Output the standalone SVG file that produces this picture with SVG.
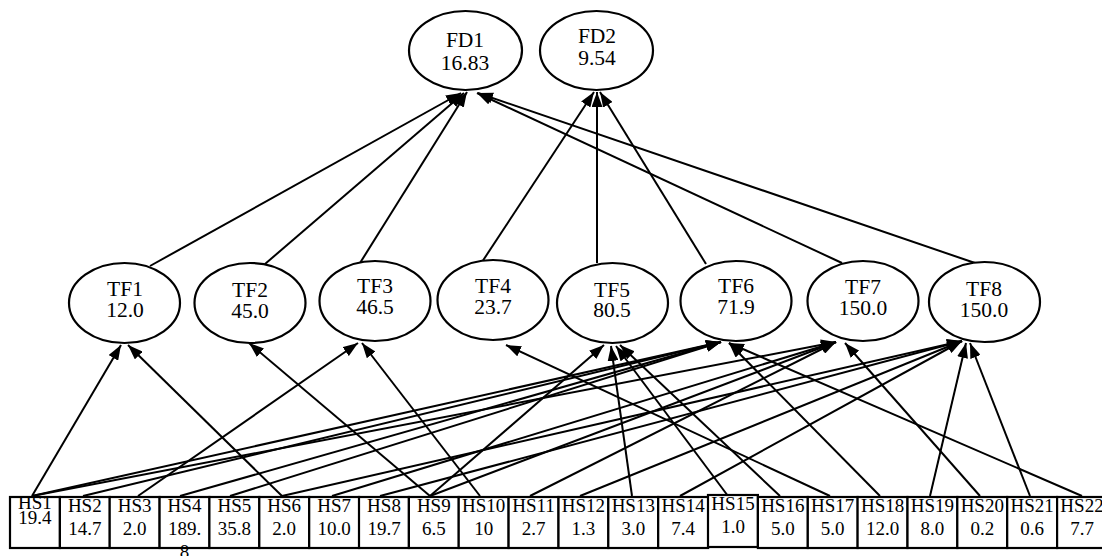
<svg xmlns="http://www.w3.org/2000/svg" width="1102" height="556" viewBox="0 0 1102 556">
<style>
.n{fill:#fff;stroke:#000;stroke-width:2.2}
.t{font-family:"Liberation Serif","Times New Roman",serif;font-size:21.5px;text-anchor:middle;fill:#000}
.s{font-family:"Liberation Serif","Times New Roman",serif;font-size:19px;text-anchor:middle;fill:#000}
.e{stroke:#000;stroke-width:2;fill:none;marker-end:url(#ah)}
</style>
<defs>
<marker id="ah" viewBox="0 0 15 11" refX="15" refY="5.5" markerWidth="15" markerHeight="11" markerUnits="userSpaceOnUse" orient="auto"><path d="M0,0 L15,5.5 L0,11 z" fill="#000"/></marker>
</defs>
<rect width="1102" height="556" fill="#fff"/>
<g id="connectors">
<line class="e" x1="150" y1="266" x2="461" y2="93"/>
<line class="e" x1="265" y1="264" x2="464" y2="93"/>
<line class="e" x1="360" y1="263" x2="467" y2="92"/>
<line class="e" x1="842" y1="263" x2="477" y2="93"/>
<line class="e" x1="975" y1="263" x2="478" y2="93"/>
<line class="e" x1="482" y1="262" x2="594" y2="92"/>
<line class="e" x1="597" y1="263" x2="597" y2="92"/>
<line class="e" x1="706" y1="264" x2="600" y2="92"/>
<line class="e" x1="32" y1="496" x2="121" y2="345"/>
<line class="e" x1="282" y1="496" x2="128" y2="345"/>
<line class="e" x1="430" y1="496" x2="249" y2="343"/>
<line class="e" x1="138" y1="496" x2="358" y2="343"/>
<line class="e" x1="480" y1="496" x2="362" y2="343"/>
<line class="e" x1="830" y1="496" x2="506" y2="345"/>
<line class="e" x1="430" y1="496" x2="604" y2="345"/>
<line class="e" x1="632" y1="496" x2="611" y2="346"/>
<line class="e" x1="728" y1="496" x2="616" y2="346"/>
<line class="e" x1="780" y1="496" x2="620" y2="345"/>
<line class="e" x1="32" y1="496" x2="721" y2="342"/>
<line class="e" x1="83" y1="496" x2="721" y2="342"/>
<line class="e" x1="180" y1="496" x2="721" y2="342"/>
<line class="e" x1="230" y1="496" x2="721" y2="342"/>
<line class="e" x1="880" y1="496" x2="729" y2="343"/>
<line class="e" x1="1082" y1="496" x2="729" y2="343"/>
<line class="e" x1="32" y1="496" x2="836" y2="342"/>
<line class="e" x1="332" y1="496" x2="836" y2="342"/>
<line class="e" x1="430" y1="496" x2="836" y2="342"/>
<line class="e" x1="530" y1="496" x2="836" y2="342"/>
<line class="e" x1="980" y1="496" x2="845" y2="343"/>
<line class="e" x1="282" y1="496" x2="962" y2="341"/>
<line class="e" x1="380" y1="496" x2="962" y2="341"/>
<line class="e" x1="580" y1="496" x2="962" y2="341"/>
<line class="e" x1="680" y1="496" x2="962" y2="341"/>
<line class="e" x1="930" y1="496" x2="966" y2="343"/>
<line class="e" x1="1030" y1="496" x2="970" y2="343"/>
</g>
<g id="FD1"><ellipse class="n" cx="465.5" cy="50.5" rx="56.5" ry="39.5"/><text class="t" x="465" y="47">FD1</text><text class="t" x="465" y="70">16.83</text></g>
<g id="FD2"><ellipse class="n" cx="596.5" cy="50.5" rx="56.5" ry="39.5"/><text class="t" x="597" y="43">FD2</text><text class="t" x="597" y="65">9.54</text></g>
<g id="TF1"><ellipse class="n" cx="124.5" cy="303" rx="55.5" ry="40"/><text class="t" x="125" y="296">TF1</text><text class="t" x="125" y="317">12.0</text></g>
<g id="TF2"><ellipse class="n" cx="250" cy="303" rx="55.5" ry="40"/><text class="t" x="250" y="297">TF2</text><text class="t" x="250" y="318">45.0</text></g>
<g id="TF3"><ellipse class="n" cx="375" cy="301" rx="55.5" ry="40"/><text class="t" x="375" y="293">TF3</text><text class="t" x="375" y="314">46.5</text></g>
<g id="TF4"><ellipse class="n" cx="493" cy="300" rx="55.5" ry="40"/><text class="t" x="493" y="293">TF4</text><text class="t" x="493" y="314">23.7</text></g>
<g id="TF5"><ellipse class="n" cx="612.5" cy="303" rx="55.5" ry="40"/><text class="t" x="612" y="297">TF5</text><text class="t" x="612" y="317">80.5</text></g>
<g id="TF6"><ellipse class="n" cx="736" cy="301" rx="55.5" ry="40"/><text class="t" x="736" y="293">TF6</text><text class="t" x="736" y="314">71.9</text></g>
<g id="TF7"><ellipse class="n" cx="863" cy="301" rx="55.5" ry="40"/><text class="t" x="863" y="294">TF7</text><text class="t" x="863" y="315">150.0</text></g>
<g id="TF8"><ellipse class="n" cx="984.5" cy="302" rx="55.5" ry="40"/><text class="t" x="984" y="296">TF8</text><text class="t" x="984" y="317">150.0</text></g>
<g id="HS1"><rect class="n" x="10" y="497" width="49.9" height="51"/><text class="s" x="34.9" y="509">HS1</text><text class="s" x="34.9" y="524">19.4</text></g>
<g id="HS2"><rect class="n" x="59.9" y="497" width="49.9" height="51"/><text class="s" x="84.8" y="512">HS2</text><text class="s" x="84.8" y="535">14.7</text></g>
<g id="HS3"><rect class="n" x="109.7" y="497" width="49.9" height="51"/><text class="s" x="134.7" y="512">HS3</text><text class="s" x="134.7" y="535">2.0</text></g>
<g id="HS4"><rect class="n" x="159.6" y="497" width="49.9" height="51"/><text class="s" x="184.5" y="512">HS4</text><text class="s" x="184.5" y="535">189.</text><text class="s" x="184.5" y="558">8</text></g>
<g id="HS5"><rect class="n" x="209.4" y="497" width="49.9" height="51"/><text class="s" x="234.4" y="512">HS5</text><text class="s" x="234.4" y="535">35.8</text></g>
<g id="HS6"><rect class="n" x="259.3" y="497" width="49.9" height="51"/><text class="s" x="284.2" y="512">HS6</text><text class="s" x="284.2" y="535">2.0</text></g>
<g id="HS7"><rect class="n" x="309.2" y="497" width="49.9" height="51"/><text class="s" x="334.1" y="512">HS7</text><text class="s" x="334.1" y="535">10.0</text></g>
<g id="HS8"><rect class="n" x="359" y="497" width="49.9" height="51"/><text class="s" x="384" y="512">HS8</text><text class="s" x="384" y="535">19.7</text></g>
<g id="HS9"><rect class="n" x="408.9" y="497" width="49.9" height="51"/><text class="s" x="433.8" y="512">HS9</text><text class="s" x="433.8" y="535">6.5</text></g>
<g id="HS10"><rect class="n" x="458.7" y="497" width="49.9" height="51"/><text class="s" x="483.7" y="512">HS10</text><text class="s" x="483.7" y="535">10</text></g>
<g id="HS11"><rect class="n" x="508.6" y="497" width="49.9" height="51"/><text class="s" x="533.5" y="512">HS11</text><text class="s" x="533.5" y="535">2.7</text></g>
<g id="HS12"><rect class="n" x="558.5" y="497" width="49.9" height="51"/><text class="s" x="583.4" y="512">HS12</text><text class="s" x="583.4" y="535">1.3</text></g>
<g id="HS13"><rect class="n" x="608.3" y="497" width="49.9" height="51"/><text class="s" x="633.3" y="512">HS13</text><text class="s" x="633.3" y="535">3.0</text></g>
<g id="HS14"><rect class="n" x="658.2" y="497" width="49.9" height="51"/><text class="s" x="683.1" y="512">HS14</text><text class="s" x="683.1" y="535">7.4</text></g>
<g id="HS15"><rect class="n" x="708" y="495" width="49.9" height="52"/><text class="s" x="733" y="510">HS15</text><text class="s" x="733" y="533">1.0</text></g>
<g id="HS16"><rect class="n" x="757.9" y="497" width="49.9" height="51"/><text class="s" x="782.8" y="512">HS16</text><text class="s" x="782.8" y="535">5.0</text></g>
<g id="HS17"><rect class="n" x="807.8" y="497" width="49.9" height="51"/><text class="s" x="832.7" y="512">HS17</text><text class="s" x="832.7" y="535">5.0</text></g>
<g id="HS18"><rect class="n" x="857.6" y="497" width="49.9" height="51"/><text class="s" x="882.6" y="512">HS18</text><text class="s" x="882.6" y="535">12.0</text></g>
<g id="HS19"><rect class="n" x="907.5" y="497" width="49.9" height="51"/><text class="s" x="932.4" y="512">HS19</text><text class="s" x="932.4" y="535">8.0</text></g>
<g id="HS20"><rect class="n" x="957.3" y="497" width="49.9" height="51"/><text class="s" x="982.3" y="512">HS20</text><text class="s" x="982.3" y="535">0.2</text></g>
<g id="HS21"><rect class="n" x="1007.2" y="497" width="49.9" height="51"/><text class="s" x="1032.1" y="512">HS21</text><text class="s" x="1032.1" y="535">0.6</text></g>
<g id="HS22"><rect class="n" x="1057.1" y="497" width="49.9" height="51"/><text class="s" x="1082" y="512">HS22</text><text class="s" x="1082" y="535">7.7</text></g>
</svg>
